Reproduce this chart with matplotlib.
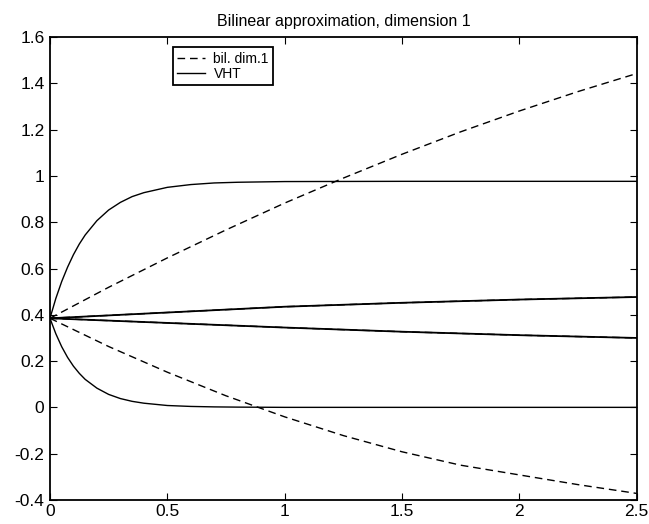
import numpy as np
import matplotlib
matplotlib.use("Agg")
from matplotlib import pyplot as plt

plt.rcParams['font.family'] = ['Liberation Sans', 'DejaVu Sans']

# VHT responses (solid), sampled on a fine grid near t=0
t_vht = [0, 0.025, 0.05, 0.075, 0.1, 0.125, 0.15, 0.2, 0.25, 0.3, 0.35,
         0.4, 0.5, 0.6, 0.7, 0.8, 1.0, 1.5, 2.0, 2.5]
vht_up = [0.385, 0.471, 0.544, 0.606, 0.660, 0.706, 0.745, 0.807, 0.853,
          0.886, 0.911, 0.928, 0.951, 0.963, 0.970, 0.973, 0.976, 0.977,
          0.977, 0.977]
vht_down = [0.385, 0.318, 0.262, 0.216, 0.178, 0.147, 0.121, 0.083, 0.056,
            0.038, 0.026, 0.018, 0.008, 0.004, 0.002, 0.001, 0.0, 0.0,
            0.0, 0.0]

# slowly drifting pair, both models agree here
t_mid = [0, 0.5, 1.0, 1.5, 2.0, 2.5]
mid_up = [0.385, 0.410, 0.435, 0.452, 0.466, 0.477]
mid_down = [0.385, 0.365, 0.345, 0.327, 0.312, 0.300]

# bilinear approximation, dimension 1 (dashed)
t_bil = [0, 0.25, 0.5, 0.75, 1.0, 1.25, 1.5, 1.75, 2.0, 2.25, 2.5]
bil_up = [0.385, 0.519, 0.646, 0.767, 0.883, 0.991, 1.094, 1.191, 1.281,
          1.365, 1.443]
bil_down = [0.385, 0.263, 0.152, 0.050, -0.041, -0.122, -0.192, -0.250,
            -0.292, -0.334, -0.372]

fig = plt.figure(figsize=(6.49, 5.24), dpi=100)
ax = fig.add_axes([0.077, 0.046, 0.904, 0.883])

dash = (5.5, 3.5)
lw = 1.0
h_bil, = ax.plot(t_bil, bil_up, color='k', lw=lw, dashes=dash)
ax.plot(t_bil, bil_down, color='k', lw=lw, dashes=dash)
ax.plot(t_mid, mid_up, color='k', lw=lw, dashes=dash)
ax.plot(t_mid, mid_down, color='k', lw=lw, dashes=dash)

h_vht, = ax.plot(t_vht, vht_up, color='k', lw=lw)
ax.plot(t_vht, vht_down, color='k', lw=lw)
ax.plot(t_mid, mid_up, color='k', lw=1.3)
ax.plot(t_mid, mid_down, color='k', lw=1.3)

ax.set_xlim(0, 2.5)
ax.set_ylim(-0.4, 1.6)
ax.set_xticks([0, 0.5, 1, 1.5, 2, 2.5])
ax.set_xticklabels(['0', '0.5', '1', '1.5', '2', '2.5'])
ax.set_yticks(np.arange(-0.4, 1.61, 0.2))
ax.set_yticklabels(['-0.4', '-0.2', '0', '0.2', '0.4', '0.6', '0.8', '1',
                    '1.2', '1.4', '1.6'])
ax.tick_params(direction='in', length=5, width=0.8, top=True, right=True,
               labelsize=12.5, pad=4, colors='k')
ax.tick_params(axis='x', pad=3)
for s in ax.spines.values():
    s.set_linewidth(1.3)

ax.set_title('Bilinear approximation, dimension 1', fontsize=11.5, pad=8)

leg = ax.legend([h_bil, h_vht], ['bil. dim.1', 'VHT'], loc='upper left',
                bbox_to_anchor=(0.21, 0.978), fontsize=10, fancybox=False,
                edgecolor='k', framealpha=1, handlelength=2.0,
                handletextpad=0.6, borderpad=0.3, labelspacing=0.1,
                borderaxespad=0)
leg.get_frame().set_linewidth(1.3)

fig.savefig('out.png', dpi=100)
